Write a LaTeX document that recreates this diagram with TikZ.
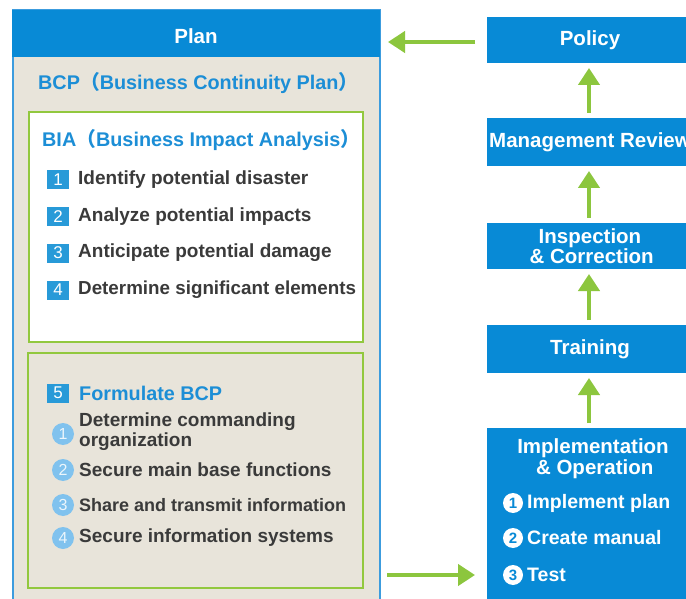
\documentclass[tikz,border=0pt]{standalone}
\usepackage{fontspec}
\setmainfont{Liberation Sans}
\newfontfamily\cjkfont{Noto Sans CJK JP}
\usetikzlibrary{arrows.meta}
\definecolor{bluebox}{RGB}{8,138,214}
\definecolor{blueline}{RGB}{60,156,222}
\definecolor{bluetext}{RGB}{28,142,214}
\definecolor{beige}{RGB}{232,228,218}
\definecolor{greenline}{RGB}{146,200,62}
\definecolor{greenarrow}{RGB}{140,198,62}
\definecolor{itemtext}{RGB}{58,58,58}
\definecolor{badge}{RGB}{40,154,216}
\definecolor{dot}{RGB}{128,194,238}
\tikzset{
  box/.style={anchor=north west, inner sep=0pt, outer sep=0pt},
  stepbox/.style={box, fill=bluebox, text=white, align=center,
    font=\bfseries\fontsize{20.5}{22}\selectfont, minimum width=206pt},
  item/.style={anchor=west, inner sep=0pt, text=itemtext, align=left,
    font=\bfseries\fontsize{19}{20}\selectfont},
  heading/.style={anchor=west, inner sep=0pt, text=bluetext,
    font=\bfseries\fontsize{19.8}{22}\selectfont},
  sqbadge/.style={fill=badge, text=white, inner sep=0pt, minimum width=22pt,
    minimum height=19pt, font=\fontsize{17}{17}\selectfont},
  circbadge/.style={circle, fill=dot, text=white!85!dot, inner sep=0pt,
    minimum size=22pt, font=\fontsize{16}{16}\selectfont},
  wbadge/.style={circle, fill=white, text=bluebox, inner sep=0pt,
    minimum size=20pt, font=\bfseries\fontsize{15}{15}\selectfont},
  itemw/.style={anchor=west, inner sep=0pt, text=white,
    font=\bfseries\fontsize{19.5}{20}\selectfont},
  garrow/.style={draw=greenarrow, line width=4.5pt,
    -{Triangle[length=17pt,width=21pt]}},
}
\begin{document}
\begin{tikzpicture}[x=1pt,y=-1pt]
\useasboundingbox (0,0) rectangle (686,599);
\clip (0,0) rectangle (686,599);
\fill[white] (0,0) rectangle (686,599);

% Plan column
\node[box, draw=blueline, line width=2pt, fill=beige,
      minimum width=367pt, minimum height=600pt] (plan) at (13,10) {};
\node[box, fill=bluebox, minimum width=368pt, minimum height=47pt] (planhead) at (12,10) {};
\node[text=white, inner sep=0pt, font=\bfseries\fontsize{20.5}{22}\selectfont]
      (plantitle) at (196,36) {Plan};
\node[heading] (bcp) at (38,83) {BCP{\cjkfont （}Business Continuity Plan{\cjkfont ）}};

% BIA block
\node[box, draw=greenline, line width=2pt, fill=white,
      minimum width=334pt, minimum height=230pt] (bia) at (29,112) {};
\node[heading] (biatitle) at (42,140) {BIA{\cjkfont （}Business Impact Analysis{\cjkfont ）}};
\node[sqbadge] (b1) at (58,180) {1};
\node[item] (t1) at (78,180) {Identify potential disaster};
\node[sqbadge] (b2) at (58,217) {2};
\node[item] (t2) at (78,217) {Analyze potential impacts};
\node[sqbadge] (b3) at (58,253) {3};
\node[item] (t3) at (78,253) {Anticipate potential damage};
\node[sqbadge] (b4) at (58,290) {4};
\node[item, font=\bfseries\fontsize{18.8}{20}\selectfont] (t4) at (78,290) {Determine significant elements};

% Formulate block
\node[box, draw=greenline, line width=2pt, fill=beige,
      minimum width=335pt, minimum height=235pt] (form) at (28,353) {};
\node[sqbadge] (b5) at (58,393) {5};
\node[heading] (t5) at (79,393) {Formulate BCP};
\node[circbadge] (c1) at (63,434) {1};
\node[item] (f1) at (79,432) {Determine commanding\\organization};
\node[circbadge] (c2) at (63,470) {2};
\node[item] (f2) at (79,470) {Secure main base functions};
\node[circbadge] (c3) at (63,505) {3};
\node[item, font=\bfseries\fontsize{18}{20}\selectfont] (f3) at (79,505) {Share and transmit information};
\node[circbadge] (c4) at (63,538) {4};
\node[item] (f4) at (79,538) {Secure information systems};

% PDCA steps
\node[stepbox, minimum height=46pt] (policy) at (487,17) {Policy};
\node[stepbox, minimum height=48pt] (review) at (487,118) {Management Review};
\node[stepbox, minimum height=46pt, font=\bfseries\fontsize{20.5}{20.5}\selectfont]
      (inspect) at (487,223) {Inspection\\\,\& Correction};
\node[stepbox, minimum height=48pt] (training) at (487,325) {Training};
\node[stepbox, minimum height=180pt] (impl) at (487,428) {};
\node[anchor=north, inner sep=0pt, text=white, align=center,
      font=\bfseries\fontsize{20.5}{21}\selectfont] (impltitle) at (593,438)
      {Implementation\\\,\& Operation};
\node[wbadge] (i1) at (513,503) {1};
\node[itemw] (it1) at (527,503) {Implement plan};
\node[wbadge] (i2) at (513,538) {2};
\node[itemw] (it2) at (527,538) {Create manual};
\node[wbadge] (i3) at (513,575) {3};
\node[itemw] (it3) at (527,575) {Test};

% Connectors
\draw[garrow, shorten <=12pt, shorten >=8pt]
  ([yshift=-2pt]policy.west) -- ([yshift=-2pt]policy.west -| plan.east);
\draw[garrow, shorten <=5pt, shorten >=5pt] ([xshift=-1pt]review.north) -- ([xshift=-1pt]policy.south);
\draw[garrow, shorten <=5pt, shorten >=5pt] ([xshift=-1pt]inspect.north) -- ([xshift=-1pt]review.south);
\draw[garrow, shorten <=5pt, shorten >=5pt] ([xshift=-1pt]training.north) -- ([xshift=-1pt]inspect.south);
\draw[garrow, shorten <=5pt, shorten >=5pt] ([xshift=-1pt]impl.north) -- ([xshift=-1pt]training.south);
\draw[garrow, shorten <=7pt, shorten >=12pt] (i3 -| plan.east) -- (i3 -| impl.west);
\end{tikzpicture}
\end{document}
